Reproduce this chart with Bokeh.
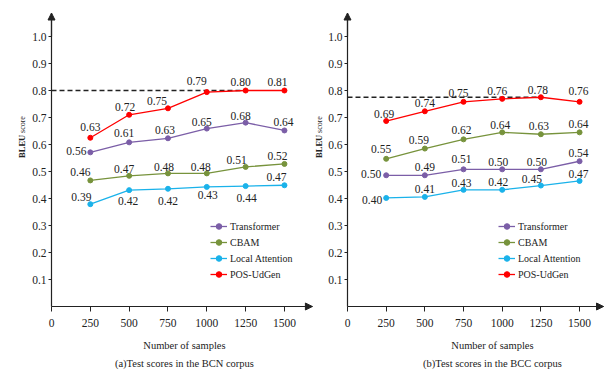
import math
from bokeh.plotting import figure
from bokeh.models import (ColumnDataSource, Range1d, FixedTicker, NumeralTickFormatter,
                          Label, Legend, LegendItem, Arrow, NormalHead, LinearAxis)
from bokeh.layouts import row
from bokeh.embed import file_html
from bokeh.resources import INLINE
from bokeh.core.properties import value

# ---------------- data ----------------
samples = [250, 500, 750, 1000, 1250, 1500]
x_ticks = [0, 250, 500, 750, 1000, 1250, 1500]
y_ticks = [0.1, 0.2, 0.3, 0.4, 0.5, 0.6, 0.7, 0.8, 0.9, 1.0]
series_names = ["Transformer", "CBAM", "Local Attention", "POS-UdGen"]

# (a) BCN corpus – plotted positions and printed labels
bcn_transformer = [0.571, 0.608, 0.623, 0.659, 0.681, 0.652]
bcn_cbam = [0.467, 0.484, 0.493, 0.493, 0.517, 0.528]
bcn_local = [0.379, 0.431, 0.436, 0.443, 0.446, 0.449]
bcn_pos = [0.625, 0.710, 0.734, 0.794, 0.800, 0.800]
bcn_transformer_lbl = ["0.56", "0.61", "0.63", "0.65", "0.68", "0.64"]
bcn_cbam_lbl = ["0.46", "0.47", "0.48", "0.48", "0.51", "0.52"]
bcn_local_lbl = ["0.39", "0.42", "0.42", "0.43", "0.44", "0.47"]
bcn_pos_lbl = ["0.63", "0.72", "0.75", "0.79", "0.80", "0.81"]
bcn_ref_level = 0.80

# (b) BCC corpus
bcc_transformer = [0.486, 0.486, 0.508, 0.508, 0.508, 0.538]
bcc_cbam = [0.547, 0.585, 0.619, 0.645, 0.638, 0.645]
bcc_local = [0.402, 0.406, 0.432, 0.432, 0.448, 0.465]
bcc_pos = [0.687, 0.723, 0.758, 0.769, 0.775, 0.758]
bcc_transformer_lbl = ["0.50", "0.49", "0.51", "0.50", "0.50", "0.54"]
bcc_cbam_lbl = ["0.55", "0.59", "0.62", "0.64", "0.63", "0.64"]
bcc_local_lbl = ["0.40", "0.41", "0.43", "0.42", "0.45", "0.47"]
bcc_pos_lbl = ["0.69", "0.74", "0.75", "0.76", "0.78", "0.76"]
bcc_ref_level = 0.775

# ---------------- styling / layout ----------------
colors = ["#7b5ea7", "#77933c", "#1ab2ea", "#ff0000"]
FONT = "Liberation Serif"
INK = "#222222"

# label pixel offsets (layout only)
bcn_offsets = [
    ([-14, -5, -3, -5, -5, -1], [-1, -9, -8, -7, -7, -8]),
    ([-10, -5, -4, -6, -9, -7], [-8, -7, -6, -6, -7, -8]),
    ([-9, -1, 0, 1, 1, -8], [-7, 11, 12, 8, 12, -8]),
    ([0, -4, -11, -10, -5, -7], [-11, -8, -7, -11, -9, -9]),
]
bcc_offsets = [
    ([-15, 0, -2, -4, -4, -1], [-1, -8, -10, -7, -7, -8]),
    ([-5, -6, -2, -2, -2, -1], [-10, -9, -9, -7, -8, -8]),
    ([-14, 0, -2, -4, -9, -1], [2, -8, -7, -8, -7, -7]),
    ([-2, 0, -5, -5, -3, -1], [-7, -8, -9, -8, -7, -11]),
]

HEIGHT = 370
Y0_PX = 306          # pixel row (from figure top) of value 0
Y_SCALE = 270.0      # pixels per unit of BLEU
Y_AXIS_END = 1.087


def make_panel(values, labels, offsets, ref_level, caption, width, origin_px, x_scale,
               x_axis_end, legend_x, ylab_x, xlab_x):
    x_start = -origin_px / x_scale
    x_stop = (width - origin_px) / x_scale
    y_stop = Y0_PX / Y_SCALE
    y_start = -(HEIGHT - Y0_PX) / Y_SCALE
    p = figure(width=width, height=HEIGHT, output_backend="svg", toolbar_location=None,
               x_range=Range1d(x_start, x_stop), y_range=Range1d(y_start, y_stop),
               x_axis_location=None, y_axis_location=None,
               min_border_left=0, min_border_right=0, min_border_top=0, min_border_bottom=0)
    p.outline_line_color = None
    p.background_fill_color = "white"
    p.grid.grid_line_color = None

    xa = LinearAxis(fixed_location=0, ticker=FixedTicker(ticks=x_ticks),
                    bounds=(0, x_axis_end))
    ya = LinearAxis(fixed_location=0, ticker=FixedTicker(ticks=y_ticks),
                    formatter=NumeralTickFormatter(format="0.0"), bounds=(0, Y_AXIS_END))
    for ax in (xa, ya):
        ax.axis_line_color = INK
        ax.axis_line_width = 1.2
        ax.major_tick_line_color = INK
        ax.minor_tick_line_color = None
        ax.major_tick_in = 0
        ax.major_label_text_font = FONT
        ax.major_label_text_font_size = "11.5px"
        ax.major_label_text_color = INK
    xa.major_tick_out = 5
    xa.major_label_standoff = 7
    ya.major_tick_out = 3
    ya.major_label_standoff = 2
    p.add_layout(xa, "below")
    p.add_layout(ya, "left")

    # arrow heads at the ends of the axes
    p.add_layout(Arrow(end=NormalHead(size=7, fill_color=INK, line_color=INK),
                       x_start=x_axis_end * 0.95, y_start=0, x_end=x_axis_end, y_end=0,
                       line_color=INK, line_width=1.2))
    p.add_layout(Arrow(end=NormalHead(size=7, fill_color=INK, line_color=INK),
                       x_start=0, y_start=1.0, x_end=0, y_end=Y_AXIS_END,
                       line_color=INK, line_width=1.2))

    # reference dashed line
    p.line(x=[x_ticks[0], samples[-2]], y=[ref_level, ref_level], line_color=INK,
           line_width=1.3, line_dash="5 3")

    items = []
    for name, vals, lbls, (dx, dy), c in zip(series_names, values, labels, offsets, colors):
        src = ColumnDataSource(dict(x=samples, y=vals, t=lbls, dx=dx, dy=dy))
        lr = p.line("x", "y", source=src, line_color=c, line_width=1.3)
        sr = p.scatter("x", "y", source=src, marker="circle", size=5, fill_color=c,
                       line_color=c)
        p.text("x", "y", text="t", source=src, x_offset="dx", y_offset="dy",
               text_align="center", text_baseline="middle", text_font=value(FONT),
               text_font_size="11.5px", text_color=INK)
        items.append(LegendItem(label=name, renderers=[lr, sr]))

    legend = Legend(items=items, location=(legend_x, 89), background_fill_alpha=0,
                    border_line_color=None, padding=0, margin=0, spacing=2,
                    glyph_width=17, glyph_height=14, label_height=14,
                    label_standoff=3, label_text_font=FONT,
                    label_text_font_size="10px", label_text_color=INK)
    p.add_layout(legend)

    # y axis title (mixed weights)
    p.add_layout(Label(x=ylab_x, y=0.593, text="BLEU", angle=math.pi / 2,
                       text_align="center", text_baseline="middle", text_font=FONT,
                       text_font_style="bold", text_font_size="8.5px", text_color=INK))
    p.add_layout(Label(x=ylab_x, y=0.674, text="score", angle=math.pi / 2,
                       text_align="center", text_baseline="middle", text_font=FONT,
                       text_font_size="8px", text_color=INK))
    # x axis title and caption
    p.add_layout(Label(x=xlab_x, y=-0.144, text="Number of samples",
                       text_align="center", text_baseline="middle", text_font=FONT,
                       text_font_size="10.5px", text_color=INK))
    p.add_layout(Label(x=xlab_x, y=-0.211, text=caption,
                       text_align="center", text_baseline="middle", text_font=FONT,
                       text_font_size="10.5px", text_color=INK))
    return p


pa = make_panel([bcn_transformer, bcn_cbam, bcn_local, bcn_pos],
                [bcn_transformer_lbl, bcn_cbam_lbl, bcn_local_lbl, bcn_pos_lbl],
                bcn_offsets, bcn_ref_level, "(a)Test scores in the BCN corpus",
                width=313, origin_px=51, x_scale=0.1553, x_axis_end=1680,
                legend_x=210, ylab_x=-187, xlab_x=856)
pb = make_panel([bcc_transformer, bcc_cbam, bcc_local, bcc_pos],
                [bcc_transformer_lbl, bcc_cbam_lbl, bcc_local_lbl, bcc_pos_lbl],
                bcc_offsets, bcc_ref_level, "(b)Test scores in the BCC corpus",
                width=300, origin_px=34, x_scale=0.1547, x_axis_end=1655,
                legend_x=185, ylab_x=-181, xlab_x=937)

layout = row(pa, pb)
open("out.html", "w").write(file_html(layout, INLINE))
